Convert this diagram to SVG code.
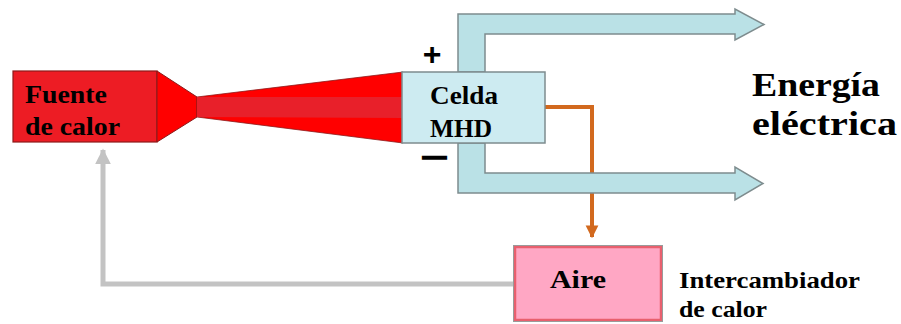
<svg xmlns="http://www.w3.org/2000/svg" width="901" height="324" viewBox="0 0 901 324">
  <defs>
    <style>
      .lbl { font-family: 'Liberation Serif', 'Times New Roman', Times, 'DejaVu Serif', 'Noto Serif', serif; font-weight: bold; fill: #000; }
      .sign { font-family: 'Liberation Sans', Arial, sans-serif; font-weight: bold; fill: #000; }
      .bus { fill: #BAE1E6; stroke: #7E8C8E; stroke-width: 1.5; stroke-linejoin: miter; }
    </style>
    <marker id="orangeHead" viewBox="0 0 10 10" refX="9" refY="5" markerWidth="3.2" markerHeight="3.6" orient="auto" markerUnits="strokeWidth">
      <path d="M0,0 L10,5 L0,10 Z" fill="#D2691E"/>
    </marker>
    <marker id="grayHead" viewBox="0 0 10 10" refX="9" refY="5" markerWidth="3.2" markerHeight="3.4" orient="auto" markerUnits="strokeWidth">
      <path d="M0,0 L10,5 L0,10 Z" fill="#C3C3C3"/>
    </marker>
  </defs>

  <rect width="901" height="324" fill="#FFFFFF"/>

  <g id="connectors">
    <polyline points="515,284 103,284 103,150" fill="none" stroke="#C3C3C3" stroke-width="5" marker-end="url(#grayHead)"/>
    <polyline points="545,107 592,107 592,237" fill="none" stroke="#D2691E" stroke-width="4" marker-end="url(#orangeHead)"/>
    <polygon class="bus" points="458,72 458,14 735,14 735,9 764,24.5 735,40 735,34 485,34 485,72"/>
    <polygon class="bus" points="458,143 458,193 735,193 735,200 763,183.5 735,167 735,173 485,173 485,143"/>
  </g>

  <g id="fuente">
    <rect x="13" y="71" width="144" height="71" fill="#ED1C24" stroke="#8C1A1A" stroke-width="1.2"/>
    <text class="lbl" x="25" y="103" font-size="25" textLength="82" lengthAdjust="spacingAndGlyphs">Fuente</text>
    <text class="lbl" x="25" y="135" font-size="25" textLength="95" lengthAdjust="spacingAndGlyphs">de calor</text>
  </g>

  <g id="tobera">
    <polygon points="157,71 197,97 197,117 157,142" fill="#FF0000" stroke="#8C1A1A" stroke-width="1"/>
    <polygon points="197,97 403,72 403,143 197,117" fill="#FF0000" stroke="#8C1A1A" stroke-width="0.8"/>
    <polygon points="197,97 403,97 403,118 197,117" fill="#E8202A"/>
  </g>

  <g id="celda">
    <rect x="402" y="72" width="143" height="71" fill="#CDEBF1" stroke="#7E8C8E" stroke-width="1.5"/>
    <text class="lbl" x="430" y="104" font-size="25" textLength="68" lengthAdjust="spacingAndGlyphs">Celda</text>
    <text class="lbl" x="430" y="137" font-size="25" textLength="62" lengthAdjust="spacingAndGlyphs">MHD</text>
    <text class="sign" x="432" y="65" font-size="32" text-anchor="middle">+</text>
    <text class="sign" x="422" y="164" font-size="24" stroke="#000" stroke-width="1.6" textLength="25" lengthAdjust="spacingAndGlyphs">–</text>
  </g>

  <g id="energia">
    <text class="lbl" x="752" y="96" font-size="34" textLength="128" lengthAdjust="spacingAndGlyphs">Energía</text>
    <text class="lbl" x="752" y="135" font-size="34" textLength="145" lengthAdjust="spacingAndGlyphs">eléctrica</text>
  </g>

  <g id="aire">
    <rect x="515" y="247" width="146" height="73" fill="#FFA7C4" stroke="#E8606E" stroke-width="2.5"/>
    <rect x="513.5" y="245.5" width="149" height="76" fill="none" stroke="#9A9A9A" stroke-width="1"/>
    <text class="lbl" x="550" y="288" font-size="26" textLength="56" lengthAdjust="spacingAndGlyphs">Aire</text>
  </g>

  <g id="intercambiador">
    <text class="lbl" x="679" y="288" font-size="24" textLength="181" lengthAdjust="spacingAndGlyphs">Intercambiador</text>
    <text class="lbl" x="679" y="317" font-size="24" textLength="88" lengthAdjust="spacingAndGlyphs">de calor</text>
  </g>
</svg>
